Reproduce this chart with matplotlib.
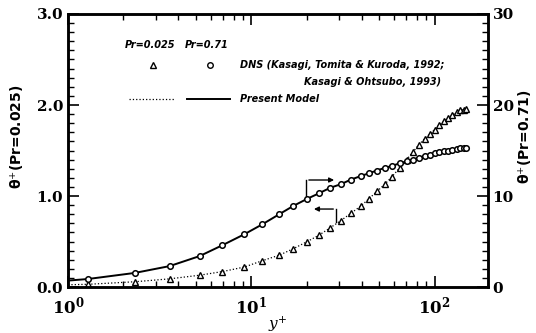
import numpy as np
import matplotlib.pyplot as plt
from matplotlib.ticker import MultipleLocator, LogLocator, NullFormatter

plt.rcParams['mathtext.fontset'] = 'dejavuserif'

# DNS 数据 (y+ 网格点)
yplus = [1.28, 2.31, 3.58, 5.22, 6.96, 9.16, 11.5, 14.2, 16.9, 20.2, 23.4, 26.9,
         30.8, 34.9, 39.6, 43.8, 48.4, 53.5, 58.4, 64.5, 70.4, 75.9, 81.8, 88.2,
         93.9, 100, 106, 113, 119, 125, 132, 138, 144, 149]
# Pr=0.71 (右轴)
theta_071 = [0.88, 1.55, 2.3, 3.4, 4.6, 5.8, 6.9, 8.0, 8.9, 9.7, 10.3, 10.9,
             11.3, 11.8, 12.2, 12.5, 12.8, 13.1, 13.3, 13.6, 13.8, 14.0, 14.2, 14.4,
             14.5, 14.7, 14.8, 14.9, 15.0, 15.1, 15.2, 15.25, 15.3, 15.3]
# Pr=0.025 (左轴)
theta_0025 = [0.03, 0.058, 0.09, 0.13, 0.17, 0.22, 0.29, 0.35, 0.42, 0.50, 0.57, 0.65,
              0.73, 0.81, 0.89, 0.97, 1.05, 1.13, 1.21, 1.31, 1.40, 1.48, 1.56, 1.63,
              1.68, 1.73, 1.78, 1.82, 1.86, 1.89, 1.92, 1.94, 1.95, 1.96]

# 模型曲线
model_yplus = [1.0] + yplus
model_071 = [0.71] + theta_071
model_0025 = [0.025] + theta_0025

serif = 'DejaVu Serif'
sans = 'DejaVu Sans'

fig = plt.figure(figsize=(5.36, 3.33), dpi=100)
ax = fig.add_axes([0.127, 0.138, 0.783, 0.82])
ax2 = ax.twinx()

ax.plot(model_yplus, model_0025, ':', color='k', lw=0.9)
ax.plot(yplus, theta_0025, linestyle='none', marker='^', ms=4.5, mfc='white', mec='k', mew=1.0)
ax2.plot(model_yplus, model_071, '-', color='k', lw=1.4)
ax2.plot(yplus, theta_071, linestyle='none', marker='o', ms=4.0, mfc='white', mec='k', mew=1.1)

ax.set_xscale('log')
ax.set_xlim(1, 195)
ax.set_ylim(0, 3.0)
ax2.set_ylim(0, 30)

ax.yaxis.set_major_locator(MultipleLocator(1.0))
ax.yaxis.set_minor_locator(MultipleLocator(0.1))
ax2.yaxis.set_major_locator(MultipleLocator(10))
ax2.yaxis.set_minor_locator(MultipleLocator(1))
ax.xaxis.set_major_locator(LogLocator(base=10))
ax.xaxis.set_minor_locator(LogLocator(base=10, subs=np.arange(2, 10)))
ax.xaxis.set_minor_formatter(NullFormatter())

ax.tick_params(axis='x', which='both', direction='in', top=True, bottom=True)
ax.tick_params(axis='x', which='major', pad=6)
ax.tick_params(axis='y', which='both', direction='in', left=True, right=False)
ax.tick_params(which='major', length=8, width=1.2)
ax.tick_params(which='minor', length=4, width=1.0)
ax2.tick_params(which='major', direction='in', length=8, width=1.2)
ax2.tick_params(which='minor', direction='in', length=4, width=1.0)

ax.set_yticks([0, 1, 2, 3])
ax.set_yticklabels(['0.0', '1.0', '2.0', '3.0'], fontsize=11, fontweight='bold', family=serif)
ax2.set_yticks([0, 10, 20, 30])
ax2.set_yticklabels(['0', '10', '20', '30'], fontsize=11, fontweight='bold', family=serif)
ax.set_xticks([1, 10, 100])
ax.set_xticklabels([r'$\mathbf{10^0}$', r'$\mathbf{10^1}$', r'$\mathbf{10^2}$'], fontsize=12)

for a in (ax, ax2):
    for s in a.spines.values():
        s.set_linewidth(1.8)

ax.set_xlabel(r'$y^{+}$', fontsize=11, labelpad=-2)
fig.text(0.032, 0.59, 'θ$^{+}$(Pr=0.025)', fontsize=10, fontweight='bold',
         rotation=90, ha='center', va='center')
fig.text(0.978, 0.59, 'θ$^{+}$(Pr=0.71)', fontsize=10, fontweight='bold',
         rotation=90, ha='center', va='center')

# 图例
lab = dict(fontsize=7, fontweight='bold', style='italic', family=sans, transform=ax.transAxes)
ax.text(0.135, 0.875, 'Pr=0.025', **lab)
ax.text(0.277, 0.875, 'Pr=0.71', **lab)
ax.plot([0.203], [0.815], marker='^', ms=4, mfc='white', mec='k', mew=1.0, transform=ax.transAxes)
ax.plot([0.338], [0.815], marker='o', ms=4, mfc='white', mec='k', mew=1.0, transform=ax.transAxes)
ax.text(0.41, 0.815, 'DNS (Kasagi, Tomita & Kuroda, 1992;', va='center', **lab)
ax.text(0.89, 0.75, 'Kasagi & Ohtsubo, 1993)', va='center', ha='right', **lab)
ax.plot([0.145, 0.255], [0.69, 0.69], ':', color='k', lw=0.9, transform=ax.transAxes)
ax.plot([0.283, 0.385], [0.69, 0.69], '-', color='k', lw=1.4, transform=ax.transAxes)
ax.text(0.41, 0.69, 'Present Model', va='center', **lab)

# 指示轴的箭头
ax.plot([19.9, 19.9], [0.956, 1.176], color='k', lw=1.0)
ax.annotate('', xy=(29.3, 1.176), xytext=(19.9, 1.176),
            arrowprops=dict(arrowstyle='-|>', color='k', lw=1.0, mutation_scale=7))
ax.plot([29.0, 29.0], [0.714, 0.857], color='k', lw=1.0)
ax.annotate('', xy=(21.2, 0.857), xytext=(29.0, 0.857),
            arrowprops=dict(arrowstyle='-|>', color='k', lw=1.0, mutation_scale=7))

fig.savefig('out.png', dpi=100)
